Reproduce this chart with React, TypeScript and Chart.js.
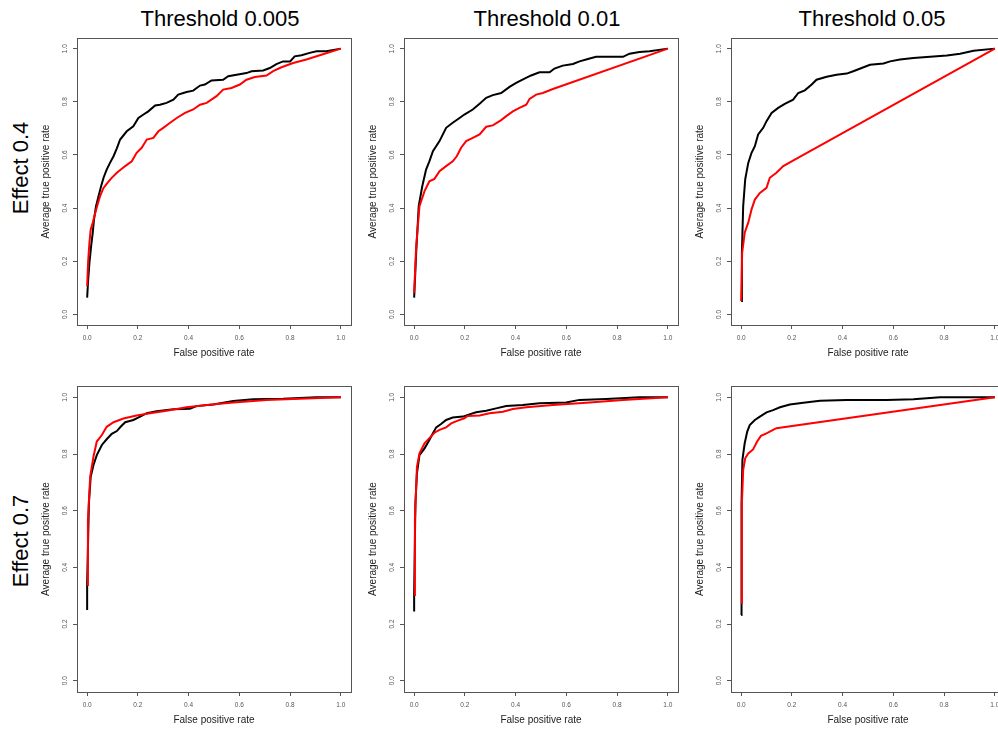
import React, { useEffect, useRef } from "react";
import { Chart, registerables } from "chart.js";

Chart.register(...registerables);

const thresholds = ["Threshold 0.005", "Threshold 0.01", "Threshold 0.05"];
const effects = ["Effect 0.4", "Effect 0.7"];
const xTitle = "False positive rate";
const yTitle = "Average true positive rate";
const tickValues = [0, 0.2, 0.4, 0.6, 0.8, 1.0];
const axisMin = -0.04;
const axisMax = 1.04;

// Effect 0.4, threshold 0.005
const e04_t005_black: [number, number][] = [
  [0, 0.063], [0.004, 0.13], [0.009, 0.194], [0.016, 0.26], [0.022, 0.307], [0.027, 0.357],
  [0.035, 0.407], [0.045, 0.445], [0.055, 0.482], [0.065, 0.515], [0.077, 0.545], [0.09, 0.57],
  [0.104, 0.595], [0.117, 0.625], [0.13, 0.658], [0.156, 0.689], [0.182, 0.708], [0.202, 0.739], [0.222, 0.752],
  [0.241, 0.764], [0.268, 0.786], [0.287, 0.789], [0.313, 0.796], [0.34, 0.808], [0.359, 0.827],
  [0.392, 0.837], [0.418, 0.842], [0.445, 0.861], [0.464, 0.865], [0.49, 0.88], [0.536, 0.883],
  [0.556, 0.896], [0.589, 0.902], [0.628, 0.908], [0.648, 0.915], [0.694, 0.918], [0.72, 0.927],
  [0.746, 0.942], [0.772, 0.952], [0.8, 0.952], [0.818, 0.971], [0.845, 0.975], [0.877, 0.984],
  [0.904, 0.99], [0.943, 0.99], [1, 1],
];
const e04_t005_red: [number, number][] = [
  [0, 0.107], [0.004, 0.2], [0.009, 0.27], [0.014, 0.32], [0.022, 0.345], [0.03, 0.375],
  [0.04, 0.41], [0.051, 0.445], [0.064, 0.475], [0.08, 0.495], [0.095, 0.512], [0.117, 0.533], [0.15, 0.558], [0.176, 0.576], [0.195, 0.608], [0.215, 0.627],
  [0.235, 0.658], [0.261, 0.664], [0.281, 0.689], [0.3, 0.702], [0.327, 0.721], [0.353, 0.739],
  [0.386, 0.758], [0.418, 0.771], [0.445, 0.789], [0.471, 0.796], [0.51, 0.821], [0.536, 0.846],
  [0.569, 0.852], [0.602, 0.865], [0.628, 0.883], [0.661, 0.893], [0.707, 0.899], [0.733, 0.915],
  [0.766, 0.93], [0.812, 0.946], [0.864, 0.959], [0.917, 0.975], [1, 1],
];

// Effect 0.4, threshold 0.01
const e04_t01_black: [number, number][] = [
  [0, 0.063], [0.008, 0.232], [0.018, 0.407], [0.032, 0.482], [0.047, 0.545], [0.06, 0.576],
  [0.074, 0.614], [0.1, 0.652], [0.126, 0.702], [0.152, 0.721], [0.179, 0.739], [0.198, 0.752],
  [0.231, 0.771], [0.258, 0.793], [0.284, 0.815], [0.31, 0.825], [0.343, 0.833], [0.376, 0.856],
  [0.402, 0.871], [0.435, 0.887], [0.461, 0.899], [0.494, 0.911], [0.534, 0.911], [0.553, 0.925],
  [0.586, 0.936], [0.626, 0.942], [0.652, 0.952], [0.685, 0.961], [0.717, 0.969], [0.757, 0.969],
  [0.823, 0.969], [0.849, 0.981], [0.888, 0.987], [0.928, 0.99], [1, 1],
];
const e04_t01_red: [number, number][] = [
  [0, 0.081], [0.008, 0.257], [0.021, 0.407], [0.041, 0.464], [0.06, 0.501], [0.08, 0.51],
  [0.1, 0.539], [0.126, 0.558], [0.152, 0.576], [0.168, 0.595], [0.185, 0.627], [0.205, 0.652],
  [0.231, 0.664], [0.258, 0.677], [0.284, 0.706], [0.31, 0.711], [0.343, 0.731], [0.363, 0.746],
  [0.389, 0.764], [0.415, 0.777], [0.442, 0.789], [0.455, 0.811], [0.481, 0.827], [0.507, 0.833],
  [0.547, 0.848], [1, 1],
];

// Effect 0.4, threshold 0.05
const e04_t05_black: [number, number][] = [
  [0, 0.05], [0.003, 0.232], [0.008, 0.407], [0.016, 0.508], [0.028, 0.57], [0.041, 0.608],
  [0.054, 0.633], [0.067, 0.677], [0.087, 0.702], [0.1, 0.727], [0.12, 0.758], [0.146, 0.777],
  [0.172, 0.792], [0.205, 0.808], [0.225, 0.833], [0.251, 0.843], [0.278, 0.865], [0.297, 0.883],
  [0.337, 0.894], [0.376, 0.902], [0.416, 0.906], [0.442, 0.915], [0.475, 0.927], [0.508, 0.939],
  [0.561, 0.944], [0.587, 0.952], [0.626, 0.959], [0.679, 0.965], [0.745, 0.969], [0.811, 0.974],
  [0.863, 0.981], [0.916, 0.992], [1, 1],
];
const e04_t05_red: [number, number][] = [
  [0, 0.05], [0.004, 0.232], [0.014, 0.307], [0.028, 0.345], [0.041, 0.395], [0.054, 0.432],
  [0.074, 0.457], [0.1, 0.476], [0.113, 0.514], [0.139, 0.533], [0.166, 0.558], [0.199, 0.576],
  [1, 1],
];

// Effect 0.7, threshold 0.005
const e07_t005_black: [number, number][] = [
  [0, 0.249], [0, 0.344], [0.007, 0.626], [0.014, 0.72], [0.025, 0.761], [0.038, 0.796],
  [0.058, 0.832], [0.077, 0.852], [0.097, 0.871], [0.117, 0.881], [0.132, 0.896], [0.15, 0.912],
  [0.182, 0.92], [0.209, 0.932], [0.235, 0.944], [0.274, 0.951], [0.34, 0.958], [0.405, 0.96],
  [0.431, 0.969], [0.497, 0.975], [0.576, 0.987], [0.654, 0.993], [0.772, 0.995], [0.904, 1],
  [1, 1],
];
const e07_t005_red: [number, number][] = [
  [0, 0.338], [0.003, 0.567], [0.012, 0.72], [0.025, 0.791], [0.038, 0.844], [0.058, 0.867],
  [0.077, 0.896], [0.104, 0.912], [0.143, 0.925], [0.195, 0.936], [0.248, 0.944], [0.313, 0.953],
  [0.392, 0.965], [0.471, 0.973], [0.576, 0.982], [0.707, 0.991], [0.838, 0.995], [1, 1],
];

// Effect 0.7, threshold 0.01
const e07_t01_black: [number, number][] = [
  [0, 0.244], [0, 0.308], [0.005, 0.626], [0.011, 0.732], [0.021, 0.796], [0.041, 0.82],
  [0.06, 0.849], [0.074, 0.873], [0.087, 0.894], [0.106, 0.906], [0.126, 0.92], [0.152, 0.929],
  [0.192, 0.932], [0.218, 0.94], [0.244, 0.947], [0.284, 0.953], [0.323, 0.961], [0.363, 0.969],
  [0.428, 0.973], [0.494, 0.979], [0.599, 0.982], [0.652, 0.991], [0.757, 0.994], [0.888, 1],
  [1, 1],
];
const e07_t01_red: [number, number][] = [
  [0, 0.302], [0.003, 0.567], [0.011, 0.755], [0.021, 0.802], [0.041, 0.838], [0.06, 0.856],
  [0.08, 0.875], [0.1, 0.885], [0.126, 0.894], [0.146, 0.908], [0.172, 0.918], [0.198, 0.926],
  [0.211, 0.934], [0.258, 0.936], [0.297, 0.944], [0.35, 0.949], [0.389, 0.959], [0.442, 0.965],
  [0.547, 0.973], [0.678, 0.981], [0.823, 0.991], [1, 1],
];

// Effect 0.7, threshold 0.05
const e07_t05_black: [number, number][] = [
  [0, 0.232], [0, 0.273], [0.003, 0.626], [0.005, 0.779], [0.014, 0.838], [0.024, 0.879],
  [0.034, 0.902], [0.054, 0.92], [0.074, 0.932], [0.1, 0.947], [0.126, 0.955], [0.153, 0.965],
  [0.192, 0.975], [0.245, 0.981], [0.311, 0.988], [0.416, 0.991], [0.574, 0.991], [0.679, 0.993],
  [0.784, 1], [1, 1],
];
const e07_t05_red: [number, number][] = [
  [0, 0.273], [0.003, 0.626], [0.008, 0.744], [0.016, 0.785], [0.028, 0.802], [0.047, 0.816],
  [0.063, 0.844], [0.078, 0.864], [0.1, 0.873], [0.126, 0.885], [0.139, 0.891], [1, 1],
];

const FONT = '"Liberation Sans", Arial, Helvetica, sans-serif';
const BOX_LEFTS = [77, 404, 731];
const BOX_TOPS = [38, 386];
const BOX_HEIGHTS = [287, 306];
const BOX_W = 274;
const PAD_L = 60;
const PAD_T = 8;
const PAD_R = 8;
const PAD_B = 40;

const panels = [
  { row: 0, col: 0, black: e04_t005_black, red: e04_t005_red },
  { row: 0, col: 1, black: e04_t01_black, red: e04_t01_red },
  { row: 0, col: 2, black: e04_t05_black, red: e04_t05_red },
  { row: 1, col: 0, black: e07_t005_black, red: e07_t005_red },
  { row: 1, col: 1, black: e07_t01_black, red: e07_t01_red },
  { row: 1, col: 2, black: e07_t05_black, red: e07_t05_red },
];

const boxPlugin = {
  id: "rbox",
  afterDatasetsDraw(chart: any) {
    const { ctx, chartArea: a } = chart;
    ctx.save();
    ctx.strokeStyle = "#555";
    ctx.lineWidth = 1;
    ctx.strokeRect(
      Math.round(a.left) + 0.5,
      Math.round(a.top) + 0.5,
      Math.round(a.right - a.left),
      Math.round(a.bottom - a.top)
    );
    ctx.restore();
  },
};

function Panel({ black, red, left, top, boxH }: any) {
  const ref = useRef<HTMLCanvasElement | null>(null);
  const W = BOX_W + PAD_L + PAD_R;
  const H = boxH + PAD_T + PAD_B;
  useEffect(() => {
    const toPts = (arr: [number, number][]) => arr.map(([x, y]) => ({ x, y }));
    const setTicks = (s: any) => {
      s.ticks = tickValues.map((v) => ({ value: v }));
    };
    const chart = new Chart(ref.current as HTMLCanvasElement, {
      type: "line",
      data: {
        datasets: [
          {
            data: toPts(red),
            borderColor: "#ff0000",
            borderWidth: 2,
            pointRadius: 0,
            tension: 0,
            fill: false,
          },
          {
            data: toPts(black),
            borderColor: "#000000",
            borderWidth: 2,
            pointRadius: 0,
            tension: 0,
            fill: false,
          },
        ],
      },
      options: {
        animation: false,
        responsive: false,
        devicePixelRatio: 1,
        layout: { padding: { left: 0, top: PAD_T, right: PAD_R, bottom: 0 } },
        plugins: { legend: { display: false }, tooltip: { enabled: false } },
        scales: {
          x: {
            type: "linear",
            min: axisMin,
            max: axisMax,
            afterBuildTicks: setTicks,
            afterFit: (s: any) => {
              s.height = PAD_B;
            },
            grid: { drawOnChartArea: false, drawTicks: true, tickLength: 4, color: "#555" },
            border: { display: false },
            ticks: {
              font: { family: FONT, size: 6.5 },
              color: "#555",
              padding: 5.5,
              maxRotation: 0,
              minRotation: 0,
              autoSkip: false,
              callback: (v: any) => Number(v).toFixed(1),
            },
            title: {
              display: true,
              text: xTitle,
              font: { family: FONT, size: 10 },
              color: "#222",
              padding: { top: 0, bottom: 6 },
            },
          },
          y: {
            type: "linear",
            min: axisMin,
            max: axisMax,
            afterBuildTicks: setTicks,
            afterFit: (s: any) => {
              s.width = PAD_L;
            },
            grid: { drawOnChartArea: false, drawTicks: true, tickLength: 4, color: "#555" },
            border: { display: false },
            ticks: {
              font: { family: FONT, size: 6.5 },
              color: "#555",
              padding: 3.5,
              minRotation: 90,
              maxRotation: 90,
              crossAlign: "center",
              autoSkip: false,
              callback: (v: any) => Number(v).toFixed(1),
            },
            title: {
              display: true,
              text: yTitle,
              font: { family: FONT, size: 10 },
              color: "#222",
              padding: { top: 23, bottom: 0 },
            },
          },
        },
      } as any,
      plugins: [boxPlugin],
    });
    return () => chart.destroy();
  }, []);
  return (
    <canvas
      ref={ref}
      width={W}
      height={H}
      style={{ position: "absolute", left: left - PAD_L, top: top - PAD_T, width: W, height: H }}
    />
  );
}

const titleCenters = [220, 547, 872];
const effectCenters = [167.5, 541];

export default function App() {
  return (
    <div
      style={{
        position: "absolute",
        left: 0,
        top: 0,
        width: 998,
        height: 731,
        overflow: "hidden",
        background: "#fff",
        fontFamily: FONT,
      }}
    >
      {thresholds.map((t, i) => (
        <div
          key={t}
          style={{
            position: "absolute",
            left: titleCenters[i] - 150,
            top: 6,
            width: 300,
            height: 26,
            lineHeight: "26px",
            fontSize: 22,
            textAlign: "center",
            color: "#000",
            whiteSpace: "nowrap",
          }}
        >
          {t}
        </div>
      ))}
      {effects.map((e, i) => (
        <div
          key={e}
          style={{
            position: "absolute",
            left: 21 - 100,
            top: effectCenters[i] - 13,
            width: 200,
            height: 26,
            lineHeight: "26px",
            fontSize: 22,
            textAlign: "center",
            color: "#000",
            whiteSpace: "nowrap",
            transform: "rotate(-90deg)",
            transformOrigin: "50% 50%",
          }}
        >
          {e}
        </div>
      ))}
      {panels.map((p, i) => (
        <Panel
          key={i}
          black={p.black}
          red={p.red}
          left={BOX_LEFTS[p.col]}
          top={BOX_TOPS[p.row]}
          boxH={BOX_HEIGHTS[p.row]}
        />
      ))}
    </div>
  );
}
